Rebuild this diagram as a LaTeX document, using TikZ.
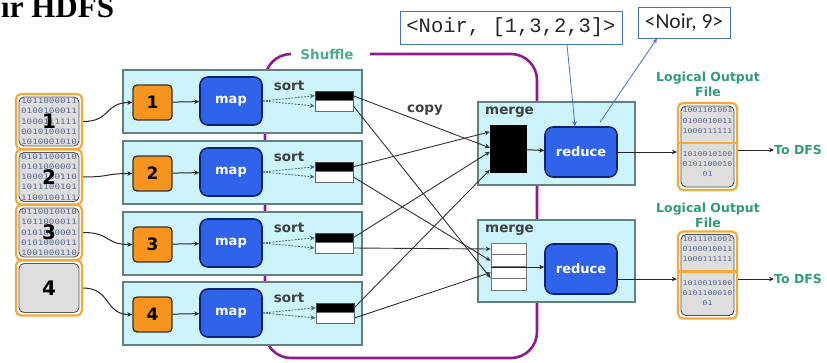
\documentclass[tikz,border=0pt]{standalone}
\usepackage{fontspec}
\setmainfont{Liberation Serif}
\newfontfamily\diagfont{DejaVu Sans}
\newfontfamily\bitfont[FakeStretch=1.25]{DejaVu Sans Mono}
\newfontfamily\codefont{Liberation Mono}
\newfontfamily\notefont{Carlito}
\usetikzlibrary{arrows.meta,calc}

\definecolor{rowcyan}{HTML}{CCF4FA}
\definecolor{rowedge}{HTML}{62807F}
\definecolor{taskorange}{HTML}{F7941D}
\definecolor{mapblue}{HTML}{2F63EA}
\definecolor{mapedge}{HTML}{0F2470}
\definecolor{shufpurple}{HTML}{8E1C8E}
\definecolor{labgreen}{HTML}{2F9C78}
\definecolor{fileorange}{HTML}{F6A93B}
\definecolor{filegray}{HTML}{DEDEDE}
\definecolor{bitblue}{HTML}{5B6B95}
\definecolor{noteblue}{HTML}{4472C4}
\definecolor{spillteal}{HTML}{3F6F70}

\begin{document}
\begin{tikzpicture}[x=1pt, y=-1pt, >={Stealth[length=5pt,width=4.5pt]},
    rowbox/.style={draw=rowedge, line width=1.3pt, fill=rowcyan, minimum width=239pt, minimum height=63pt, inner sep=0pt},
    taskbox/.style={draw=black!80, line width=1.3pt, fill=taskorange, rounded corners=4pt, minimum width=39pt, minimum height=35pt, inner sep=0pt, font=\diagfont\bfseries\fontsize{17}{17}\selectfont},
    bluebox/.style={draw=mapedge, line width=1.6pt, fill=mapblue, rounded corners=8pt, minimum height=48pt, inner sep=0pt, text=white, font=\diagfont\bfseries\fontsize{13}{13}\selectfont},
    boldlab/.style={text=black!75, font=\diagfont\bfseries\fontsize{13.5}{13.5}\selectfont, inner sep=0pt},
    greenlab/.style={text=labgreen, font=\diagfont\bfseries\fontsize{12.5}{15}\selectfont, inner sep=0pt, align=center},
    bufblack/.style={draw=black!70, fill=black, minimum width=38pt, minimum height=9.5pt, inner sep=0pt},
    bufwhite/.style={draw=black!60, line width=0.8pt, fill=white, minimum width=38pt, minimum height=11pt, inner sep=0pt},
    slotbox/.style={draw=black!55, line width=0.8pt, fill=white, minimum width=35pt, minimum height=11.75pt, inner sep=0pt},
    spill/.style={->, dash pattern=on 2pt off 1.2pt, draw=spillteal, line width=0.8pt},
    link/.style={->, draw=black!85, line width=1pt},
    copyline/.style={->, draw=black!80, line width=0.9pt},
    bignum/.style={text=black, font=\diagfont\bfseries\fontsize{20}{20}\selectfont, inner sep=0pt},
    bits/.style={align=center, text=bitblue, inner sep=0pt, font=\bitfont\fontsize{6.6}{10.2}\selectfont},
    infile/.style={draw=fileorange, line width=2.2pt, rounded corners=5pt, fill=white, minimum width=66pt, minimum height=55pt, inner sep=0pt, align=center, text=bitblue, font=\bitfont\fontsize{7.4}{10.3}\selectfont,
        path picture={\fill[filegray, draw=gray!70!black, line width=0.9pt] ([shift={(3pt,3pt)}]path picture bounding box.south west) rectangle ([shift={(-3pt,-3pt)}]path picture bounding box.north east);}},
    outfile/.style={draw=fileorange, line width=2.2pt, rounded corners=5pt, fill=white, minimum width=59pt, minimum height=87pt, inner sep=0pt,
        path picture={\fill[filegray, draw=gray!60!black, line width=0.9pt] ([shift={(3pt,3pt)}]path picture bounding box.south west) rectangle ([shift={(-3pt,-3pt)}]path picture bounding box.north east);
        \draw[fileorange, line width=2.6pt] ([yshift=3.5pt]path picture bounding box.west) -- ([yshift=3.5pt]path picture bounding box.east);}},
    notebox/.style={draw=noteblue, line width=0.9pt, fill=white, inner sep=0pt, text=black!85},
    notearrow/.style={->, draw=noteblue, line width=0.8pt}
]
\useasboundingbox (0,0) rectangle (827,362);

% titre
\node[anchor=base west, inner sep=0pt, font=\bfseries\fontsize{31}{31}\selectfont] (titre) at (1,17) {ir HDFS};

% shuffle
\draw[shufpurple, line width=2.6pt, rounded corners=26pt] (291,54) -- (265,54) -- (265,358) -- (537,358) -- (537,54) -- (370,54);
\node[greenlab, font=\diagfont\bfseries\fontsize{13.5}{13.5}\selectfont, text=labgreen!85!white] (shuffle) at (327,54) {Shuffle};

% fichiers en entree
\node[infile, label={[bignum]center:1}] (in1) at (49,121.5) {1011000011\\0100100011\\1000111111\\0010100011\\1010001010};
\node[infile, label={[bignum]center:2}] (in2) at (49,177) {0101100010\\0101000001\\1000100110\\1011100101\\1100100111};
\node[infile, label={[bignum]center:3}] (in3) at (49,232.5) {0110010010\\1011000011\\0101000001\\0101000011\\1001000110};
\node[infile, label={[bignum]center:4}] (in4) at (49,288) {};

% ligne 1
\begin{scope}[shift={(0,0)}]
    \node[rowbox] (row1) at (242.5,101.5) {};
    \node[taskbox] (t1) at (152.5,102.5) {1};
    \node[bluebox, minimum width=62pt] (map1) at (231,101) {map};
    \node[boldlab] (sort1) at (289,86) {sort};
    \node[bufblack] (bb1) at (334,95.75) {};
    \node[bufwhite] (bw1) at (334,106) {};
    \draw[link] (t1) -- (map1);
    \draw[spill] (map1.east) -- (bb1.west);
    \draw[spill] (map1.east) -- (bw1.west);
\end{scope}

% ligne 2
\begin{scope}[shift={(0,71)}]
    \node[rowbox] (row2) at (242.5,101.5) {};
    \node[taskbox] (t2) at (152.5,102.5) {2};
    \node[bluebox, minimum width=62pt] (map2) at (231,101) {map};
    \node[boldlab] (sort2) at (289,86) {sort};
    \node[bufblack] (bb2) at (334,95.75) {};
    \node[bufwhite] (bw2) at (334,106) {};
    \draw[link] (t2) -- (map2);
    \draw[spill] (map2.east) -- (bb2.west);
    \draw[spill] (map2.east) -- (bw2.west);
\end{scope}

% ligne 3
\begin{scope}[shift={(0,142)}]
    \node[rowbox] (row3) at (242.5,101.5) {};
    \node[taskbox] (t3) at (152.5,102.5) {3};
    \node[bluebox, minimum width=62pt] (map3) at (231,101) {map};
    \node[boldlab] (sort3) at (289,86) {sort};
    \node[bufblack] (bb3) at (334,95.75) {};
    \node[bufwhite] (bw3) at (334,106) {};
    \draw[link] (t3) -- (map3);
    \draw[spill] (map3.east) -- (bb3.west);
    \draw[spill] (map3.east) -- (bw3.west);
\end{scope}

% ligne 4
\begin{scope}[shift={(0,212)}]
    \node[rowbox] (row4) at (242.5,101.5) {};
    \node[taskbox] (t4) at (152.5,102.5) {4};
    \node[bluebox, minimum width=62pt] (map4) at (231,101) {map};
    \node[boldlab] (sort4) at (289,86) {sort};
    \node[bufblack] (bb4) at (335,95.75) {};
    \node[bufwhite] (bw4) at (335,106) {};
    \draw[link] (t4) -- (map4);
    \draw[spill] (map4.east) -- (bb4.west);
    \draw[spill] (map4.east) -- (bw4.west);
\end{scope}

% entrees vers les taches
\draw[link] (in1.east) .. controls +(28,0) and +(-28,0) .. (t1.west);
\draw[link] (in2.east) .. controls +(28,0) and +(-28,0) .. (t2.west);
\draw[link] (in3.east) .. controls +(28,0) and +(-28,0) .. (t3.west);
\draw[link] (in4.east) .. controls +(28,0) and +(-28,0) .. (t4.west);

% merge / reduce 1
\node[rowbox, minimum width=157pt, minimum height=83pt] (merge1) at (556.5,143.5) {};
\node[boldlab, anchor=west] (mlab1) at (485,112.5) {merge};
\node[fill=black, minimum width=37pt, minimum height=48pt, inner sep=0pt] (blk) at (508.5,149) {};
\node[bluebox, minimum width=72pt, minimum height=50pt] (red1) at (581,152) {reduce};
\draw[link] (blk) -- (red1);

% merge / reduce 2
\node[rowbox, minimum width=157pt, minimum height=82pt] (merge2) at (556.5,261) {};
\node[boldlab, anchor=west] (mlab2) at (485,230) {merge};
\node[slotbox] (slot1) at (508.5,249) {};
\node[slotbox] (slot2) at (508.5,260.75) {};
\node[slotbox] (slot3) at (508.5,272.5) {};
\node[slotbox] (slot4) at (508.5,284.25) {};
\node[bluebox, minimum width=72pt, minimum height=50pt] (red2) at (581,269) {reduce};
\draw[link] (slot2.south west) -- (slot2.south west -| red2.west);

% copy
\node[boldlab] (copy) at (425,110) {copy};
\coordinate (k1) at ($(blk.north west)+(0,7)$);
\coordinate (k2) at ($(blk.north west)+(0,23)$);
\coordinate (k3) at ($(blk.north west)+(0,27)$);
\coordinate (k4) at ($(blk.north west)+(0,45)$);
\draw[copyline] (bb1.east) -- (k2);
\draw[copyline] (bb2.east) -- (k1);
\draw[copyline] (bb3.east) -- (k3);
\draw[copyline] (bb4.east) -- (k4);
\draw[copyline] (bw1.east) -- (slot4.north west);
\draw[copyline] (bw2.east) -- (slot2.west);
\draw[copyline] (bw3.east) -- (slot1.west);
\draw[copyline] (bw4.east) -- (slot3.west);

% sorties
\node[greenlab] (lof1) at (708,84.5) {Logical Output\\File};
\node[outfile] (out1) at (707.5,146.5) {};
\node[bits] (bits1) at (707.5,142.5) {1001101001\\0100010011\\1000111111\\[13pt]1010010100\\0101100010\\01};
\node[greenlab, anchor=west] (dfs1) at (774,150) {To DFS};
\draw[link] (red1.east) -- (red1.east -| out1.west);
\draw[link] (out1.east |- dfs1) -- (dfs1.west);

\node[greenlab] (lof2) at (708,215.5) {Logical Output\\File};
\node[outfile] (out2) at (707.5,275) {};
\node[bits] (bits2) at (707.5,271) {1011101001\\0100010011\\1000111111\\[13pt]1010010100\\0101100010\\01};
\node[greenlab, anchor=west] (dfs2) at (774,279) {To DFS};
\draw[link] ([yshift=-10pt]red2.east) -- ([yshift=-10pt]red2.east -| out2.west);
\draw[link] (out2.east |- dfs2) -- (dfs2.west);

% annotations
\node[notebox, font=\codefont\fontsize{20.5}{20.5}\selectfont, minimum width=222pt, minimum height=33pt] (note1) at (511,27.5) {<Noir, [1,3,2,3]>};
\node[notebox, font=\notefont\fontsize{21.5}{21.5}\selectfont, minimum width=92pt, minimum height=31pt] (note2) at (684,22.5) {<Noir, 9>};
\draw[notearrow] ([xshift=56pt]note1.south) -- ([xshift=-6pt]red1.north);
\draw[notearrow] ([xshift=19pt,yshift=4pt]red1.north) -- ([xshift=-27pt]note2.south);
\end{tikzpicture}
\end{document}
